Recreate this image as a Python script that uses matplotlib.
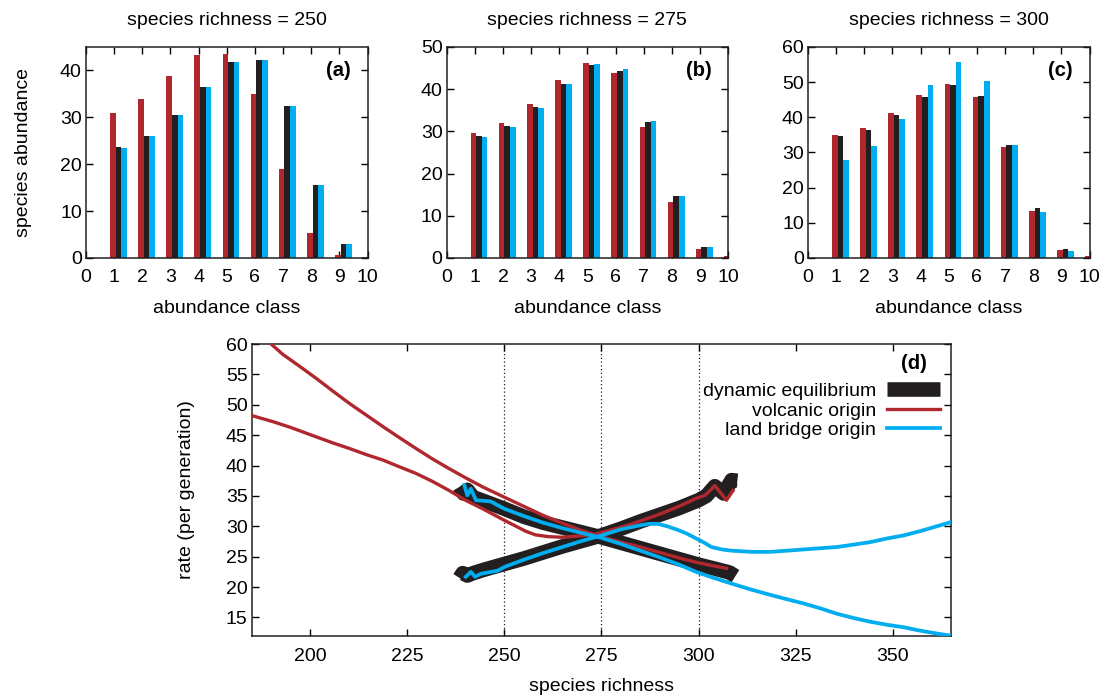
#!/usr/bin/env python

import numpy as np
from matplotlib import pyplot as plt

plt.rcParams['font.family'] = ['Liberation Sans', 'DejaVu Sans']
plt.rcParams['font.size'] = 14

RED = '#b0282e'
BLACK = '#231f20'
BLUE = '#00aeef'

# abundance class histograms for three species richness values
classes = np.arange(1, 11)
richness = [250, 275, 300]
panel_tags = ['(a)', '(b)', '(c)']
ymax = [45, 50, 60]

volcanic_hist = [
    [30.9, 33.9, 38.8, 43.3, 43.6, 34.9, 19.0, 5.3, 0.6, 0.3],
    [29.7, 32.0, 36.5, 42.1, 46.2, 43.8, 31.0, 13.2, 2.2, 0.5],
    [35.0, 36.9, 41.2, 46.3, 49.5, 45.7, 31.7, 13.3, 2.3, 0.5],
]
equilibrium_hist = [
    [23.6, 26.1, 30.5, 36.4, 41.8, 42.3, 32.4, 15.5, 3.0, 0.0],
    [28.9, 31.2, 35.7, 41.3, 45.7, 44.4, 32.3, 14.8, 2.7, 0.0],
    [34.6, 36.5, 40.7, 45.9, 49.3, 46.1, 32.2, 14.1, 2.5, 0.0],
]
landbridge_hist = [
    [23.5, 26.0, 30.5, 36.4, 41.8, 42.3, 32.4, 15.5, 3.0, 0.0],
    [28.7, 31.0, 35.5, 41.3, 46.0, 44.7, 32.5, 14.7, 2.7, 0.0],
    [28.0, 31.8, 39.4, 49.3, 55.8, 50.3, 32.1, 13.2, 2.1, 0.0],
]

# rate curves vs species richness
eq_down_S = [238.5, 239.5, 240.5, 242, 245, 250, 255, 260, 265, 270, 275, 280, 285, 290, 295,
             300, 305, 308, 309.5]
eq_down_r = [36.5, 35.4, 36.0, 34.8, 34.1, 32.9, 31.6, 30.6, 29.8, 29.0, 28.2, 27.3, 26.4, 25.5, 24.6,
             23.7, 22.9, 22.4, 21.8]
eq_up_S = [238.5, 239.3, 240.5, 242, 245, 250, 255, 260, 265, 270, 275, 280, 285, 290, 295,
           300, 302, 304.2, 306.5, 308.5, 310]
eq_up_r = [21.5, 22.3, 21.9, 22.3, 22.9, 23.8, 24.7, 25.7, 26.7, 27.6, 28.5, 29.6, 30.8, 31.9, 33.0,
           34.3, 35.0, 36.6, 35.4, 37.6, 37.5]

volc_a_S = [189.8, 193, 197.4, 201.7, 206, 210.2, 214.5, 218.8, 223, 227.3, 231.5, 235.8, 240, 244.4,
            250, 255, 260, 265, 270, 275, 280, 285, 290, 295, 300, 303.8, 307.2]
volc_a_r = [60.1, 58.3, 56.3, 54.3, 52.2, 50.2, 48.3, 46.4, 44.6, 42.8, 41.1, 39.5, 38.0, 36.5,
            34.8, 33.3, 31.8, 30.5, 29.3, 28.3, 27.4, 26.6, 25.7, 24.8, 24.0, 23.5, 23.1]
volc_b_S = [184.6, 190.6, 194.9, 201.7, 206, 210.2, 214.5, 218.8, 223, 227.3, 231.5, 235.8, 240, 244.4,
            250, 255.5, 258, 261.4, 265, 269.1, 273.4, 277.5, 281.9, 286, 290.4, 295, 299.4,
            301.7, 304.2, 307.2, 308.9]
volc_b_r = [48.3, 47.2, 46.3, 44.7, 43.7, 42.8, 41.8, 40.9, 39.8, 38.7, 37.4, 35.9, 34.3, 32.9,
            31.0, 29.2, 28.6, 28.3, 28.2, 28.4, 28.7, 29.4, 30.2, 31.1, 32.1, 33.3, 34.6,
            35.1, 36.7, 34.3, 35.9]

land_down_S = [239.7, 240.5, 241.4, 242.7, 246.5, 250, 255, 260, 265, 270, 275, 280, 285, 290, 295,
               299.4, 304, 308.4, 313.5, 318.6, 322.8, 327.1, 331.4, 335.7, 340, 344.2, 348.5,
               352.8, 356.5, 360, 365]
land_down_r = [36.8, 35.1, 36.2, 34.3, 34.1, 32.9, 31.7, 30.6, 29.7, 28.9, 28.1, 27.1, 26.0, 24.9, 23.7,
               22.5, 21.5, 20.6, 19.6, 18.7, 18.0, 17.3, 16.5, 15.6, 14.9, 14.3, 13.8,
               13.4, 12.9, 12.5, 12.0]
land_up_S = [240.1, 241.4, 242.5, 244, 248.3, 250, 255, 260, 265, 270, 275, 280, 284.5, 287, 289.6,
             292, 294.7, 297, 299.4, 301.5, 303.3, 306, 308.4, 313.5, 318.6, 323, 327.1, 331.4,
             335.7, 340, 344.2, 348.5, 352.8, 357, 361.3, 365]
land_up_r = [21.7, 22.5, 21.7, 22.2, 22.7, 23.3, 24.5, 25.6, 26.6, 27.6, 28.5, 29.5, 30.1, 30.4, 30.4,
             30.0, 29.4, 28.8, 28.0, 27.3, 26.6, 26.2, 26.0, 25.8, 25.8, 26.0, 26.2, 26.4,
             26.6, 27.0, 27.4, 28.0, 28.5, 29.2, 30.0, 30.7]

richness_marks = [250, 275, 300]


def style_axes(ax):
    ax.tick_params(direction='in', top=True, right=True, length=5, width=1)
    for sp in ax.spines.values():
        sp.set_linewidth(1.1)
        sp.set_color(BLACK)


def main():
    fig = plt.figure(figsize=(11.07, 6.95), dpi=100)

    lefts = [0.0777, 0.4035, 0.7299]
    for i in range(3):
        ax = fig.add_axes([lefts[i], 0.6288, 0.2543, 0.3036])
        ax.bar(classes - 0.05, volcanic_hist[i], width=0.2, color=RED, align='center')
        ax.bar(classes + 0.15, equilibrium_hist[i], width=0.2, color=BLACK, align='center')
        ax.bar(classes + 0.35, landbridge_hist[i], width=0.2, color=BLUE, align='center')
        ax.set_axisbelow(True)
        ax.set_xlim(0, 10)
        ax.set_ylim(0, ymax[i])
        ax.set_xticks(range(0, 11))
        ax.set_yticks(range(0, ymax[i] + 1, 10))
        style_axes(ax)
        ax.tick_params(axis='x', pad=8)
        ax.tick_params(axis='y', pad=3)
        ax.set_title(f'species richness = {richness[i]}', fontsize=14, pad=16)
        ax.set_xlabel('abundance class', labelpad=10)
        if i == 0:
            ax.set_ylabel('species abundance', labelpad=20)
        ax.text(0.94, 0.89, panel_tags[i], transform=ax.transAxes, ha='right', va='center',
                fontsize=14.5, fontweight='bold')

    ax = fig.add_axes([0.2274, 0.0853, 0.6317, 0.4197])
    for s in richness_marks:
        ax.axvline(s, color=BLACK, lw=0.9, ls=(0, (1, 2)), zorder=1)
    ax.plot(eq_down_S, eq_down_r, color=BLACK, lw=10.5, solid_joinstyle='round',
            solid_capstyle='butt', zorder=2, label='dynamic equilibrium')
    ax.plot(eq_up_S, eq_up_r, color=BLACK, lw=10.5, solid_joinstyle='round',
            solid_capstyle='butt', zorder=2)
    ax.plot(volc_a_S, volc_a_r, color=RED, lw=2.4, zorder=3, label='volcanic origin')
    ax.plot(volc_b_S, volc_b_r, color=RED, lw=2.4, zorder=3)
    ax.plot(land_down_S, land_down_r, color=BLUE, lw=2.7, zorder=4, label='land bridge origin')
    ax.plot(land_up_S, land_up_r, color=BLUE, lw=2.7, zorder=4)

    ax.set_xlim(185, 365)
    ax.set_ylim(12, 60)
    ax.set_xticks(range(200, 351, 25))
    ax.set_yticks(range(15, 61, 5))
    style_axes(ax)
    ax.tick_params(axis='x', pad=9)
    ax.tick_params(axis='y', pad=3)
    ax.set_xlabel('species richness', labelpad=9)
    ax.set_ylabel('rate (per generation)', labelpad=22)
    ax.text(0.965, 0.934, '(d)', transform=ax.transAxes, ha='right', va='center',
            fontsize=14.5, fontweight='bold')
    ax.legend(loc='upper right', bbox_to_anchor=(0.984, 0.868), frameon=False, markerfirst=False,
              fontsize=14, handlelength=2.7, handletextpad=0.57, labelspacing=0.1,
              borderpad=0, borderaxespad=0)

    fig.savefig('out.png', dpi=100)
    plt.close(fig)


if __name__ == '__main__':
    main()
